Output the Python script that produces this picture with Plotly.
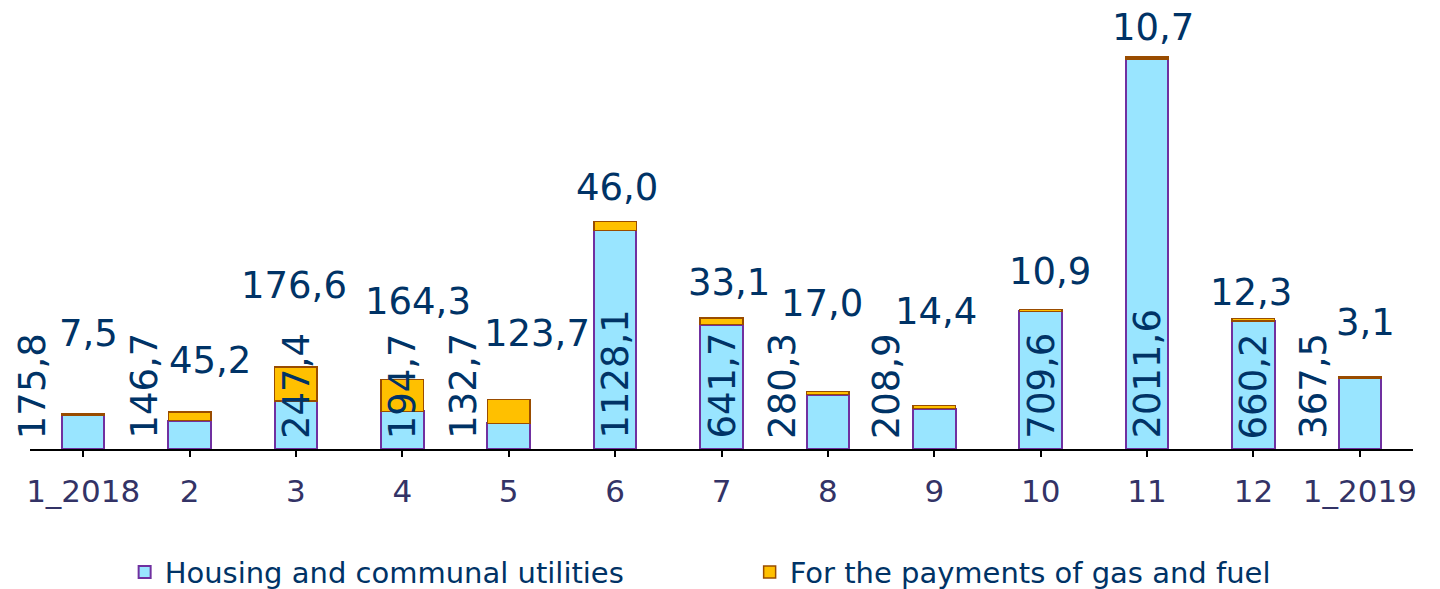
import plotly.graph_objects as go

months = ['1_2018', '2', '3', '4', '5', '6', '7', '8', '9', '10', '11', '12', '1_2019']
housing = [175.8, 146.7, 247.4, 194.7, 132.7, 1128.1, 641.7, 280.3, 208.9, 709.6, 2011.6, 660.2, 367.5]
gas_fuel = [7.5, 45.2, 176.6, 164.3, 123.7, 46.0, 33.1, 17.0, 14.4, 10.9, 10.7, 12.3, 3.1]

# label placement (pixels), as hand-placed in the original
housing_dx = [-51, -46, 0, 0, -46, 0, 0, -46, -48, 0, 0, 0, -47]
gas_dx = [5, 20, -2, 16, 28, 2, 7, -6, 2, 9, 6, -2, 6]
gas_dy = [80, 51, 81, 78, 66, 34, 36, 88, 94, 38, 30, 26, 55]

FONT = 'DejaVu Sans'
LABEL = '#003366'


def fmt(v):
    return '{:.1f}'.format(v).replace('.', ',')


fig = go.Figure()
fig.add_trace(go.Bar(
    x=months, y=housing, name='Housing and communal utilities',
    marker=dict(color='#99E5FF', line=dict(color='#7030A0', width=2)),
))
fig.add_trace(go.Bar(
    x=months, y=gas_fuel, name='For the payments of gas and fuel',
    marker=dict(color='#FFC000', line=dict(color='#994C00', width=1.5)),
))

# category axis: annotations are placed by category index
annotations = []
for i, (h, g) in enumerate(zip(housing, gas_fuel)):
    annotations.append(dict(
        x=i, y=0, text=fmt(h), textangle=-90, showarrow=False,
        xanchor='center', yanchor='bottom', xshift=housing_dx[i], yshift=8,
        font=dict(family=FONT, size=37, color=LABEL)))
    annotations.append(dict(
        x=i, y=h + g, text=fmt(g), showarrow=False,
        xanchor='center', yanchor='middle', xshift=gas_dx[i], yshift=gas_dy[i],
        font=dict(family=FONT, size=37, color=LABEL)))

# the page body adds an 8px margin, so the margins here absorb it
fig.update_layout(
    barmode='stack',
    bargap=0.6,
    width=1440, height=589,
    margin=dict(l=22, r=35, t=2, b=148),
    plot_bgcolor='white',
    paper_bgcolor='white',
    font=dict(family=FONT, size=30, color='#333366'),
    showlegend=True,
    legend=dict(
        orientation='h', xref='container', x=0.081, xanchor='left',
        yref='container', y=0.042, yanchor='middle',
        entrywidth=580, entrywidthmode='pixels',
        font=dict(family=FONT, size=29, color=LABEL),
        traceorder='normal',
    ),
    xaxis=dict(
        type='category', range=[-0.5, 12.5], automargin=False,
        showline=True, linecolor='black', linewidth=2,
        ticks='outside', ticklen=6, tickwidth=2, tickcolor='black',
        ticklabelstandoff=8,
        tickfont=dict(family=FONT, size=31, color='#333366'),
        showgrid=False, zeroline=False,
    ),
    yaxis=dict(
        range=[0, 2265], visible=False, showgrid=False, zeroline=False,
        automargin=False,
    ),
    annotations=annotations,
)

fig.write_html('out.html')
